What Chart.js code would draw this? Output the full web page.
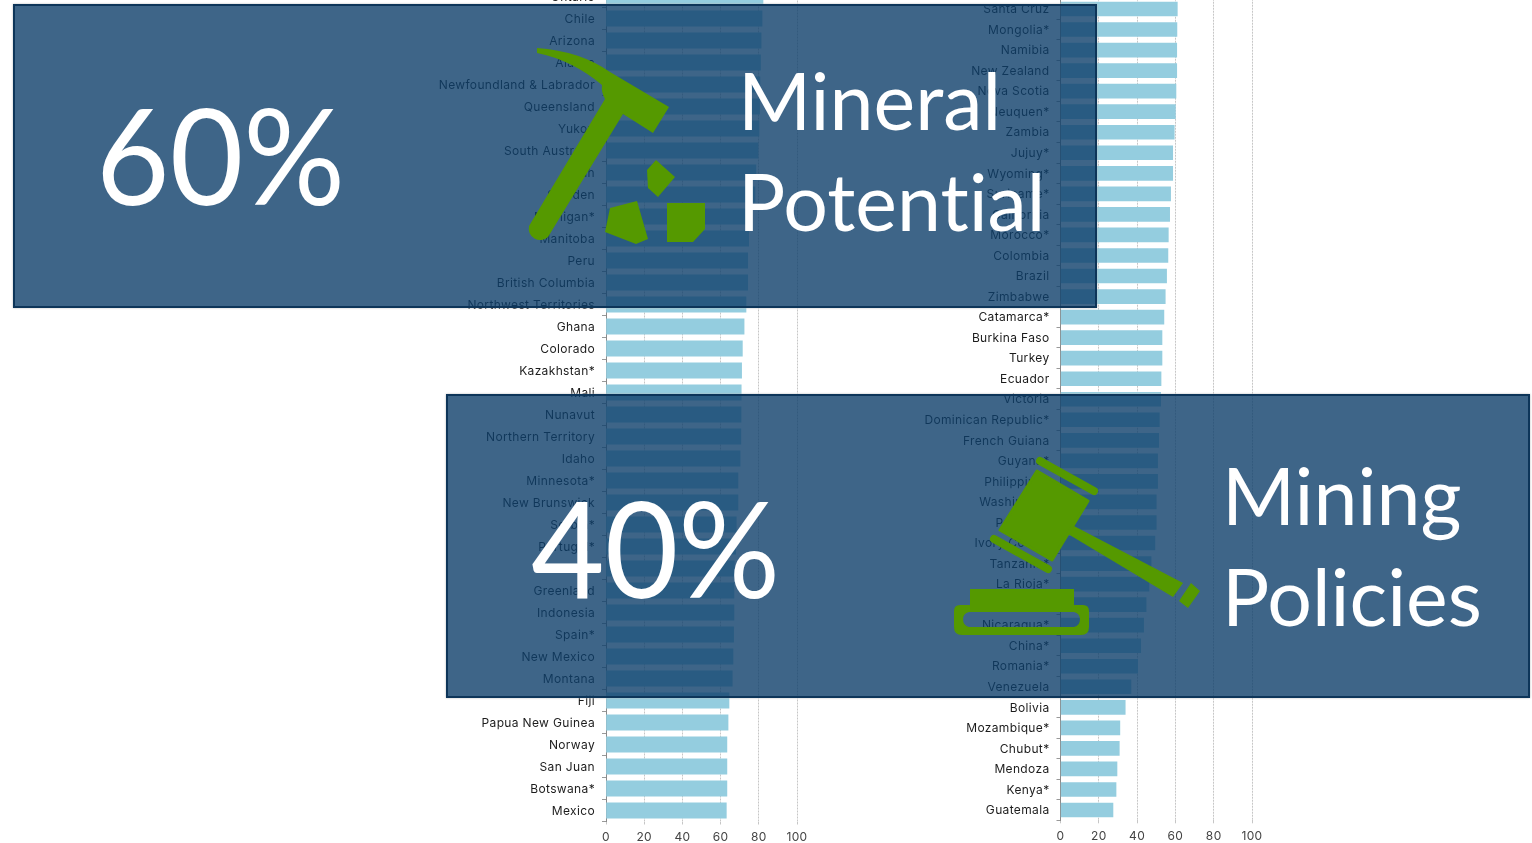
<!DOCTYPE html>
<html>
<head>
<meta charset="utf-8">
<style>
  html, body { margin: 0; padding: 0; background: #fff; overflow: hidden; }
  body { width: 1532px; height: 843px; position: relative; font-family: Lato, sans-serif; }
  canvas { position: absolute; }
  .box { position: absolute; width: 1080px; height: 300px; background: rgba(14, 63, 106, 0.8);
         border: 2px solid #0d3559; box-shadow: 0 0 2px #bbb; }
  .txt { position: absolute; color: #fff; white-space: nowrap; font-variant-ligatures: none; transform-origin: left top; }
  .big { font-size: 133px; line-height: 133px; transform: scaleX(0.955); }
  .word { font-size: 79px; line-height: 101px; transform: scaleX(0.998); }
  svg { position: absolute; left: 0; top: 0; }
</style>
</head>
<body>
<canvas id="leftChart" style="left:430px; top:-15px;"></canvas>
<canvas id="rightChart" style="left:880px; top:-2px;"></canvas>

<div class="box" style="left:13px; top:4px;"></div>
<div class="box" style="left:446px; top:394px;"></div>

<div class="txt big" style="left:96px; top:87px;">60%</div>
<div class="txt big" style="left:531px; top:480px;">40%</div>
<div class="txt word" style="left:738px; top:49px;">Mineral<br>Potential</div>
<div class="txt word" style="left:1222px; top:444px;">Mining<br>Policies</div>

<svg width="1532" height="843" fill="#559900">
  <!-- pickaxe and rocks -->
  <path d="M537 48 Q580 51 610 72 L669 107 L653 133 L623 114 L548 237 A11.500 11.500 0 0 1 529 226 L605 99 Q601 92 602 85 Q572 60 537 53 Z"/>
  <polygon points="656,160 675,177 658,197 648,188 647,170"/>
  <polygon points="610,208 637,201 648,239 636,244 605,232"/>
  <polygon points="667,203 705,203 705,229 693,242 667,242"/>
  <!-- gavel -->
  <polygon points="1037,471 1088,501 1052,560 1000,530" stroke="#559900" stroke-width="3" stroke-linejoin="round"/>
  <line x1="1040" y1="461" x2="1094" y2="491" stroke="#559900" stroke-width="8" stroke-linecap="round"/>
  <line x1="994" y1="539" x2="1048" y2="569" stroke="#559900" stroke-width="8" stroke-linecap="round"/>
  <polygon points="1074,526 1183,583 1173,597 1068,534"/>
  <polygon points="1191,583 1200,591 1188,608 1179,601"/>
  <rect x="970" y="589" width="104" height="17"/>
  <path fill-rule="evenodd" d="M960 605 H1083 Q1089 605 1089 611 V627 Q1089 635 1081 635 H962 Q954 635 954 627 V611 Q954 605 960 605 Z
           M969 612 H1074 A7.700 7.700 0 0 1 1074 627 H969 A7.700 7.700 0 0 1 969 612 Z"/>
</svg>

<script src="https://cdn.jsdelivr.net/npm/chart.js"></script>
<script>
const leftLabels = ['Ontario', 'Chile', 'Arizona', 'Alaska', 'Newfoundland & Labrador', 'Queensland', 'Yukon',
  'South Australia', 'Utah', 'Sweden', 'Michigan*', 'Manitoba', 'Peru', 'British Columbia',
  'Northwest Territories', 'Ghana', 'Colorado', 'Kazakhstan*', 'Mali', 'Nunavut', 'Northern Territory',
  'Idaho', 'Minnesota*', 'New Brunswick', 'Serbia*', 'Portugal*', 'Ireland*', 'Greenland', 'Indonesia',
  'Spain*', 'New Mexico', 'Montana', 'Fiji', 'Papua New Guinea', 'Norway', 'San Juan', 'Botswana*', 'Mexico'];
const leftValues = [82.2, 81.7, 81.2, 80.9, 80.6, 80.4, 80.1, 79.6, 78.5, 78, 76.3, 74.7, 74.2, 74.2,
  73.3, 72.3, 71.4, 71, 70.8, 70.7, 70.6, 70.2, 69.1, 69.1, 68.2, 67.9, 67.2, 67, 67,
  66.8, 66.5, 66.1, 64.4, 63.9, 63.3, 63.3, 63.3, 63];

const rightLabels = ['Santa Cruz', 'Mongolia*', 'Namibia', 'New Zealand', 'Nova Scotia', 'Neuquen*', 'Zambia',
  'Jujuy*', 'Wyoming*', 'Suriname*', 'California', 'Morocco*', 'Colombia', 'Brazil', 'Zimbabwe', 'Catamarca*',
  'Burkina Faso', 'Turkey', 'Ecuador', 'Victoria', 'Dominican Republic*', 'French Guiana', 'Guyana*',
  'Philippines', 'Washington', 'Panama*', 'Ivory Coast*', 'Tanzania*', 'La Rioja*', 'Salta', 'Nicaragua*',
  'China*', 'Romania*', 'Venezuela', 'Bolivia', 'Mozambique*', 'Chubut*', 'Mendoza', 'Kenya*', 'Guatemala'];
const rightValues = [61, 60.8, 60.7, 60.7, 60.3, 60, 59.4, 58.6, 58.6, 57.5, 57, 56.3, 56.1, 55.4, 54.7, 54,
  53, 53, 52.5, 52.3, 51.6, 51.3, 50.7, 50.7, 50, 50, 49.3, 47.3, 46.2, 44.7, 43.4,
  41.9, 40.3, 36.8, 33.8, 31, 30.7, 29.5, 29, 27.4];

const barColor = '#94cddf';
const labelFont = { family: 'Inter', size: 12 };

// the source labels are set wider than any installed font
const spacedText = {
  id: 'spacedText',
  beforeDraw: chart => { chart.ctx.letterSpacing = '0.35px'; },
};

function drawChart(id, labels, values, w, h, axisWidth, barHeight, padRight, padTop, xAxisHeight) {
  const canvas = document.getElementById(id);
  canvas.width = w;
  canvas.height = h;
  return new Chart(canvas.getContext('2d'), {
    type: 'bar',
    data: {
      labels: labels,
      datasets: [{ data: values, backgroundColor: barColor, barThickness: barHeight }],
    },
    plugins: [spacedText],
    options: {
      indexAxis: 'y',
      responsive: false,
      animation: false,
      devicePixelRatio: 1,
      layout: { padding: { left: 0, right: padRight, top: padTop, bottom: 0 } },
      plugins: { legend: { display: false }, tooltip: { enabled: false } },
      scales: {
        x: {
          min: 0,
          max: 100,
          afterFit: scale => { scale.height = xAxisHeight; },
          grid: { color: '#c6c6c6', lineWidth: 1, tickLength: 3 },
          border: { dash: [2, 1], display: false },
          ticks: { stepSize: 20, color: '#444', font: labelFont, padding: 6, maxRotation: 0 },
        },
        y: {
          afterFit: scale => {
            scale.width = axisWidth;
            scale.paddingTop = 0;
            scale.paddingBottom = 0;
          },
          grid: { drawOnChartArea: false, tickLength: 4, color: '#999' },
          border: { color: '#8a8a8a' },
          ticks: { autoSkip: false, color: '#1c1c1c', font: labelFont, padding: 7, labelOffset: 0.6 },
        },
      },
    },
  });
}

drawChart('leftChart', leftLabels, leftValues, 400, 858, 176, 15.5, 33, 0.5, 21.5);
drawChart('rightChart', rightLabels, rightValues, 412, 845, 180.5, 14, 40, 0.73, 22.7);
</script>
</body>
</html>
